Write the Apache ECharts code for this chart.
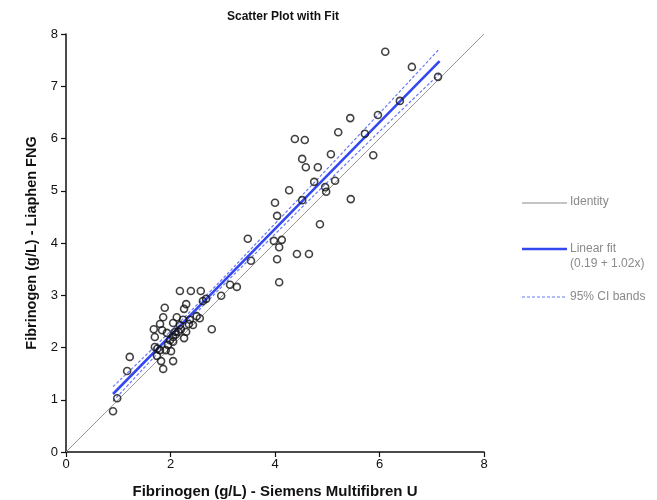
<!DOCTYPE html>
<html><head><meta charset="utf-8">
<script src="https://cdn.jsdelivr.net/npm/echarts@6/dist/echarts.min.js"></script>
<style>html,body{margin:0;padding:0;background:#fff}#c{width:657px;height:500px}</style>
</head><body><div id="c"></div>
<script>
// Observed points: x = Siemens Multifibren U, y = Liaphen FNG (g/L)
const xValues = [6.11,6.62,7.12,6.39,5.97,5.44,5.21,5.72,5.07,5.88,5.15,4.96,4.98,5.45,
  4.38,4.57,4.52,4.59,4.82,4.75,4.27,4.52,4.00,4.04,4.86,3.48,3.98,4.13,4.08,3.54,4.42,4.65,4.04,4.08,3.14,3.27,2.97,2.79,
  0.90,0.98,1.17,1.22,1.86,1.82,2.05,1.74,1.70,1.80,1.91,2.01,1.99,2.05,1.70,1.84,1.93,2.09,2.26,1.68,1.80,2.05,2.18,2.30,2.43,
  1.89,1.86,2.12,2.24,2.37,2.56,2.30,2.26,2.62,2.68,2.18,2.39,2.58,
  1.95,2.05,2.15,2.20,1.75,2.10,2.35,2.50];
const yValues = [7.66,7.37,7.18,6.72,6.45,6.39,6.12,6.09,5.70,5.68,5.19,5.07,4.98,4.84,
  5.99,5.97,5.61,5.45,5.45,5.17,5.01,4.82,4.77,4.52,4.36,4.08,4.04,4.06,3.92,3.66,3.79,3.79,3.69,3.25,3.20,3.16,2.99,2.35,
  0.78,1.03,1.55,1.82,1.59,1.74,1.74,1.84,2.01,1.95,1.95,1.93,2.14,2.11,2.20,2.33,2.28,2.30,2.18,2.35,2.45,2.47,2.43,2.30,2.43,
  2.76,2.58,2.58,2.53,2.53,2.56,2.83,2.74,2.89,2.93,3.08,3.08,3.08,
  2.05,2.20,2.30,2.35,1.98,2.25,2.45,2.60];
// Fitted line and 95% CI band values
const fitX = [0.9, 2.5, 4.0, 5.5, 7.15];
const fitY = [1.11, 2.74, 4.27, 5.80, 7.48];
const ciUpper = [1.25, 2.81, 4.37, 5.95, 7.72];
const ciLower = [0.97, 2.67, 4.17, 5.65, 7.24];
const identityX = [0, 8];
const identityY = [0, 8];
const axisTicks = [0, 2, 4, 6, 8];
const titleText = 'Scatter Plot with Fit';
const xName = 'Fibrinogen (g/L) - Siemens Multifibren U';
const yName = 'Fibrinogen (g/L) - Liaphen FNG';
const legendLabels = ['Identity', 'Linear fit\n(0.19 + 1.02x)', '95% CI bands'];

const zip = (a, b) => a.map((v, i) => [v, b[i]]);
const chart = echarts.init(document.getElementById('c'), null, {renderer: 'canvas'});
const FONT = 'Liberation Sans, Arial, sans-serif';
const BLUE = '#3448f0';
const LEG = '#8a8a8a';
chart.setOption({
  animation: false,
  backgroundColor: '#fff',
  title: {text: titleText, left: 278, top: 6, textAlign: 'center',
    textStyle: {fontFamily: FONT, fontSize: 12, fontWeight: 'bold', color: '#111'}},
  grid: {left: 66, right: 173, top: 34, bottom: 48, containLabel: false, outerBoundsMode: 'none'},
  xAxis: {type: 'value', min: axisTicks[0], max: axisTicks[axisTicks.length-1], interval: 2,
    name: xName, nameLocation: 'middle', nameGap: 32,
    nameTextStyle: {fontFamily: FONT, fontSize: 15, fontWeight: 'bold', color: '#111'},
    axisLine: {lineStyle: {color: '#111', width: 1.5}},
    axisTick: {show: true, length: 5, lineStyle: {color: '#111', width: 1.2}},
    axisLabel: {fontFamily: FONT, fontSize: 13, color: '#111', margin: 6},
    splitLine: {show: false}},
  yAxis: {type: 'value', min: axisTicks[0], max: axisTicks[axisTicks.length-1], interval: 1,
    name: yName, nameLocation: 'middle', nameGap: 26,
    nameTextStyle: {fontFamily: FONT, fontSize: 14.5, fontWeight: 'bold', color: '#111'},
    axisLine: {show: true, lineStyle: {color: '#111', width: 1.5}},
    axisTick: {show: true, length: 5, lineStyle: {color: '#111', width: 1.2}},
    axisLabel: {fontFamily: FONT, fontSize: 13, color: '#111', margin: 8},
    splitLine: {show: false}},
  series: [
    {type: 'line', data: zip(identityX, identityY), symbol: 'none', silent: true,
      lineStyle: {color: '#9a9a9a', width: 1}, z: 1},
    {type: 'line', data: zip(fitX, ciUpper), symbol: 'none', smooth: true,
      lineStyle: {color: '#6a78f5', width: 1.2, type: [3, 2]}, z: 2},
    {type: 'line', data: zip(fitX, ciLower), symbol: 'none', smooth: true,
      lineStyle: {color: '#6a78f5', width: 1.2, type: [3, 2]}, z: 2},
    {type: 'line', data: zip(fitX, fitY), symbol: 'none',
      lineStyle: {color: BLUE, width: 2.6}, z: 3},
    {type: 'scatter', data: zip(xValues, yValues), symbol: 'circle', symbolSize: 7,
      itemStyle: {color: 'rgba(255,255,255,0)', borderColor: '#111', borderWidth: 1.6}, z: 4}
  ],
  graphic: [
    {type: 'line', shape: {x1: 522, y1: 203, x2: 567, y2: 203}, style: {stroke: '#8a8a8a', lineWidth: 1}},
    {type: 'text', x: 570, y: 202, style: {text: legendLabels[0], fontFamily: FONT, fontSize: 12, fill: LEG, verticalAlign: 'middle'}},
    {type: 'line', shape: {x1: 522, y1: 249, x2: 567, y2: 249}, style: {stroke: BLUE, lineWidth: 2.6}},
    {type: 'text', x: 570, y: 241, style: {text: legendLabels[1], fontFamily: FONT, fontSize: 12, lineHeight: 15, fill: LEG, verticalAlign: 'top'}},
    {type: 'line', shape: {x1: 522, y1: 297, x2: 567, y2: 297}, style: {stroke: '#6a78f5', lineWidth: 1.2, lineDash: [3, 2]}},
    {type: 'text', x: 570, y: 297, style: {text: legendLabels[2], fontFamily: FONT, fontSize: 12, fill: LEG, verticalAlign: 'middle'}}
  ]
});
</script>
</body></html>
